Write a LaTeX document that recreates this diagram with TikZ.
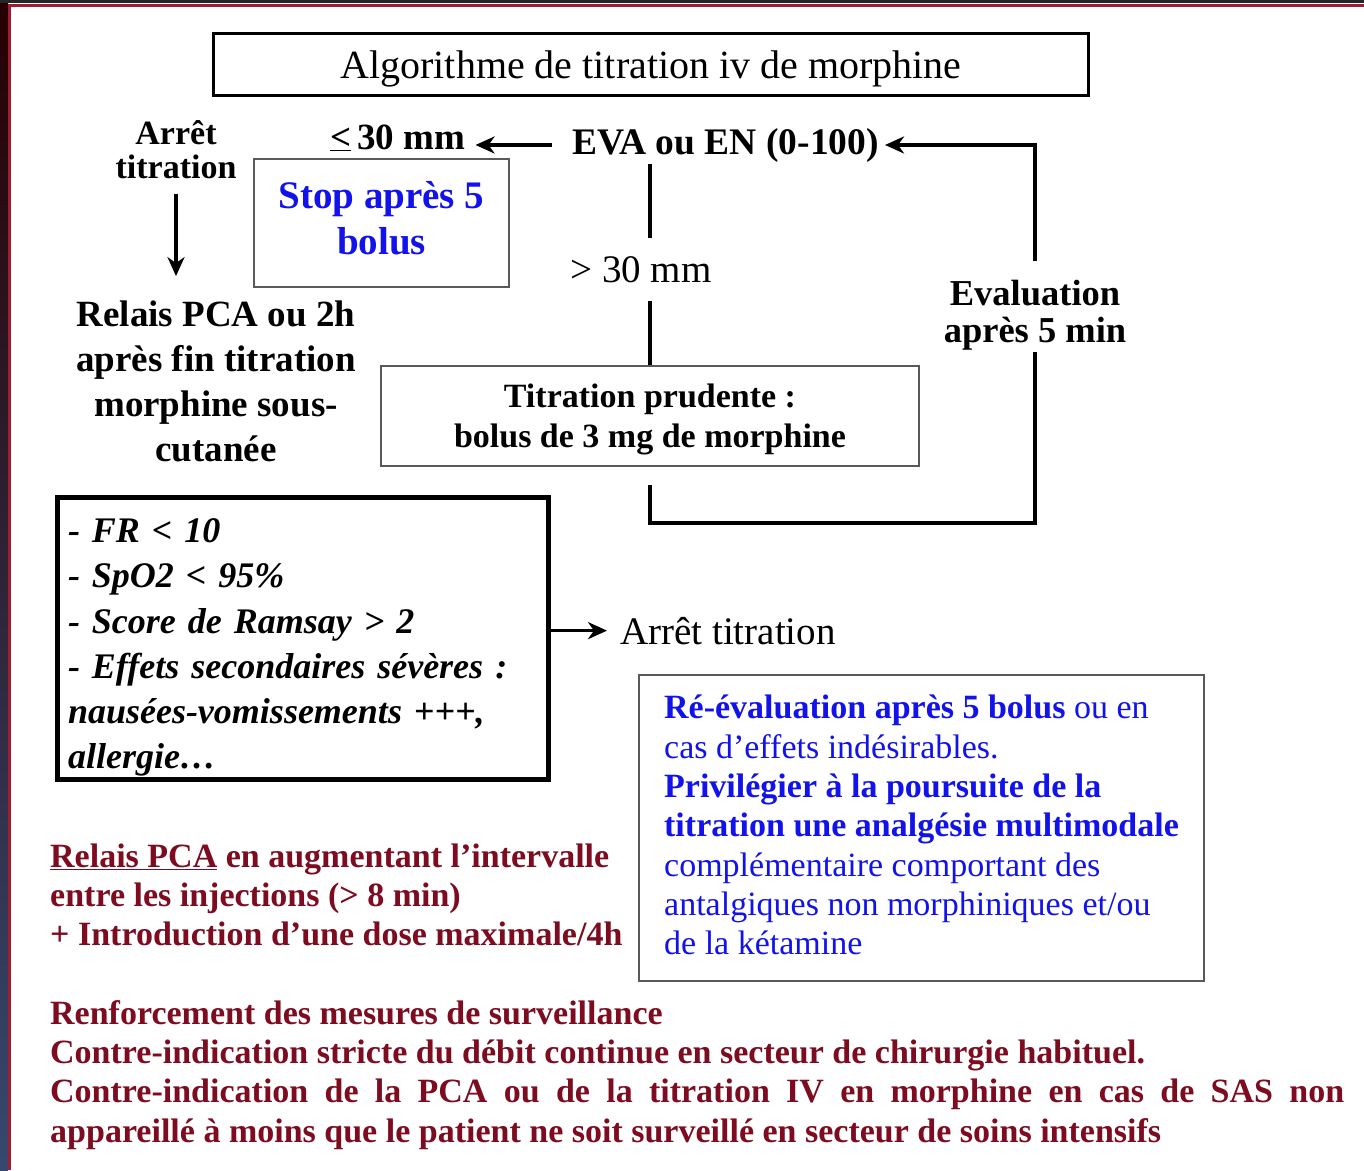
\documentclass[tikz,border=0pt]{standalone}
\usepackage{fontspec}
\setmainfont{Liberation Serif}
\usepackage{xcolor}
\usepackage{tikz}
\usetikzlibrary{arrows.meta,positioning}

\definecolor{stopblue}{RGB}{18,18,235}
\definecolor{notered}{RGB}{125,12,32}
\definecolor{framered}{RGB}{160,28,50}
\definecolor{frameblue}{RGB}{55,72,110}
\newcommand{\fsz}[2]{\fontsize{#1}{#2}\selectfont}

\tikzset{
  lbl/.style={inner sep=2pt},
  thinbox/.style={draw=black!65, line width=2pt},
  link/.style={line width=3.2pt},
  arr/.style={line width=3.6pt, -{Stealth[length=19pt,width=17pt,inset=6pt]}}
}

\begin{document}
\begin{tikzpicture}[x=1pt,y=-1pt]
        \useasboundingbox (0,0) rectangle (1364,1170);
        % Frame
        \fill[white] (0,0) rectangle (1364,1170);
        \shade[top color=black!85!red, middle color=black!80, bottom color=frameblue] (0,0) rectangle (8,1170);
        \fill[black!85] (0,0) rectangle (1364,3);
        \draw[framered, line width=3.5pt] (9.5,1170) -- (9.5,5.5) -- (1364,5.5);

        % Title
        \node[draw, line width=3pt, minimum width=875pt, minimum height=62pt, text height=32pt, text depth=3pt, font={\fsz{40}{46}}] (title) at (651,64) {Algorithme de titration iv de morphine};

        % Top row
        \node[lbl, anchor=base, align=center, font={\bfseries\fsz{34}{34}}] (arret) at (176,178) {Arrêt\\titration};
        \node[lbl, anchor=base west, font={\bfseries\fsz{37}{44}}] (le30) at (328,149) {\underline{<}\,30 mm};
        \node[lbl, anchor=base west, font={\bfseries\fsz{37.5}{44}}] (eva) at (570,154) {EVA ou EN (0-100)};
        \node[thinbox, minimum width=255pt, minimum height=128pt, align=center, text=stopblue, font={\bfseries\fsz{39}{46}}] (stop) at (381.5,223) {Stop après 5\\bolus\rule[-10pt]{0pt}{10pt}};
        \node[lbl, anchor=base, font={\fsz{39}{46}}] (gt) at (641,282) {> 30 mm};
        \node[lbl, anchor=base, align=center, font={\bfseries\fsz{36.5}{37}}] (eval) at (1035,342) {Evaluation\\après 5 min};
        \node[lbl, anchor=base, align=center, font={\bfseries\fsz{37}{45}}] (relais) at (216,461) {Relais PCA ou 2h\\après fin titration\\morphine sous-\\cutanée};
        \node[thinbox, minimum width=538pt, minimum height=100pt, align=center, font={\bfseries\fsz{34}{40}}] (titr) at (650,416) {\rule{0pt}{31pt}Titration prudente :\\bolus de 3 mg de morphine};
        \coordinate (loopc) at (1035,523);

        % Arrows of the loop
        \draw[arr, shorten <=13pt, shorten >=22pt] (arret.south) -- (arret.south |- relais.north);
        \draw[arr, shorten <=18pt, shorten >=8pt] (eva.west) -- (eva.west -| le30.east);
        \draw[link, shorten >=16pt] (eva.south -| titr.north) -- (gt.north -| titr.north);
        \draw[link, shorten <=16pt] (gt.south -| titr.north) -- (titr.north);
        \draw[link, shorten <=18pt] (titr.south) |- (loopc) -- (eval.south);
        \draw[arr, shorten <=16pt, shorten >=4pt] (eval.north) |- (eva.east);

        % Stop criteria
        \node[draw, line width=5pt, minimum width=491pt, minimum height=282pt, text width=470pt, align=left, font={\bfseries\itshape\fsz{36}{45.2}}] (crit) at (303,638.5) {\rule{0pt}{42pt}- FR < 10\\- SpO2 < 95\%\\- Score de Ramsay > 2\\- Effets secondaires sévères :\\nausées-vomissements +++,\\allergie…};
        \node[lbl, anchor=base west, font={\fsz{39}{46}}] (arret2) at (618,644) {Arrêt titration};
        \draw[arr, shorten >=11pt] (crit.east |- arret2.west) -- (arret2.west);

        % Re-evaluation
        \node[thinbox, minimum width=565pt, minimum height=306pt, align=left, text=stopblue, font={\fsz{34}{39.3}}] (reeval) at (921.5,828) {{\bfseries Ré-évaluation après 5 bolus} ou en\\cas d’effets indésirables.\\{\bfseries Privilégier à la poursuite de la}\\{\bfseries titration une analgésie multimodale}\\complémentaire comportant des\\antalgiques non morphiniques et/ou\\de la kétamine\rule[-6pt]{0pt}{6pt}};

        % Notes
        \node[lbl, anchor=base west, align=left, text=notered, font={\bfseries\fsz{34}{39}}] (pca) at (48,945) {\underline{Relais PCA} en augmentant l’intervalle\\entre les injections (> 8 min)\\+ Introduction d’une dose maximale/4h};
        \node[lbl, anchor=base west, align=left, text=notered, font={\bfseries\fsz{34}{39.3}}] (surv) at (48,1142) {Renforcement des mesures de surveillance\\Contre-indication stricte du débit continue en secteur de chirurgie habituel.\\\makebox[1294pt][s]{Contre-indication de la PCA ou de la titration IV en morphine en cas de SAS non}\\appareillé à moins que le patient ne soit surveillé en secteur de soins intensifs};
    \end{tikzpicture}
\end{document}
